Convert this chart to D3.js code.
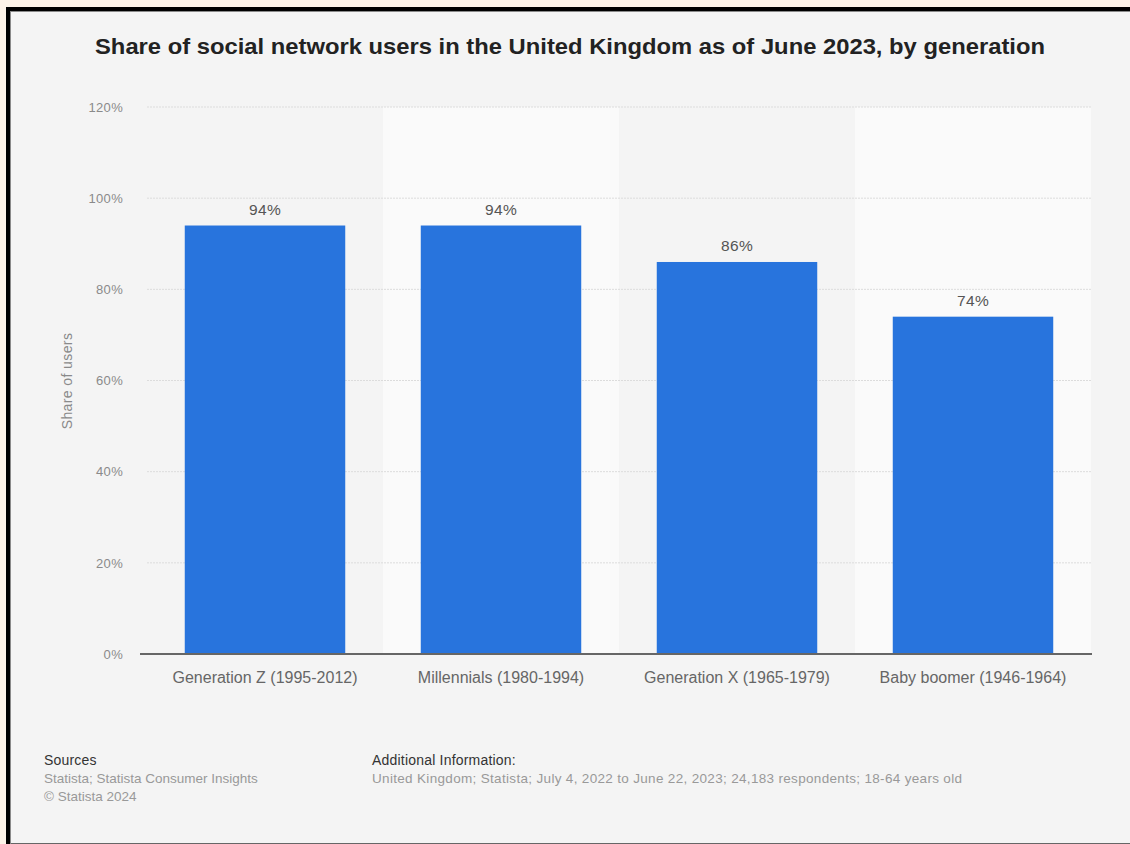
<!DOCTYPE html>
<html>
<head>
<meta charset="utf-8">
<script src="https://cdn.jsdelivr.net/npm/d3@7"></script>
<style>
  body { margin: 0; background: #fdf3e8; }
  svg { display: block; font-family: "Liberation Sans", Arial, sans-serif; }
</style>
</head>
<body>
<svg id="chart"></svg>
<script>
// data
const categories = ["Generation Z (1995-2012)", "Millennials (1980-1994)", "Generation X (1965-1979)", "Baby boomer (1946-1964)"];
const shares = [94, 94, 86, 74];
const yTicks = [0, 20, 40, 60, 80, 100, 120];

const title = "Share of social network users in the United Kingdom as of June 2023, by generation";
const sourceLines = ["Statista; Statista Consumer Insights", "© Statista 2024"];
const infoLine = "United Kingdom; Statista; July 4, 2022 to June 22, 2023; 24,183 respondents; 18-64 years old";

const width = 1130, height = 844;
const svg = d3.select("#chart").attr("width", width).attr("height", height);

// frame: black border top/left, grey inner line, grey bottom line
svg.append("rect").attr("x", 6).attr("y", 7).attr("width", width - 6).attr("height", height - 7).attr("fill", "#000");
svg.append("rect").attr("x", 10).attr("y", 11).attr("width", width - 10).attr("height", height - 11).attr("fill", "#8a8a8a");
svg.append("rect").attr("x", 11).attr("y", 12).attr("width", width - 11).attr("height", height - 13).attr("fill", "#f4f4f4");
svg.append("rect").attr("x", 11).attr("y", height - 1).attr("width", width - 11).attr("height", 1).attr("fill", "#666");

// title
svg.append("text")
    .attr("x", 95).attr("y", 54)
    .attr("font-size", 21.5)
    .attr("font-weight", "bold")
    .attr("fill", "#222")
    .attr("textLength", 950)
    .attr("lengthAdjust", "spacingAndGlyphs")
    .text(title);

// scales
const xScale = d3.scaleBand()
    .domain(categories)
    .range([147, 1091])
    .paddingInner(0.32)
    .paddingOuter(0.16);

const yScale = d3.scaleLinear()
    .domain([0, 120])
    .range([654, 107]);

// alternating band backgrounds
const step = xScale.step();
svg.append("g").selectAll("rect")
    .data(categories.filter((d, i) => i % 2 == 1))
    .join("rect")
    .attr("x", d => xScale(d) - xScale.paddingInner() * step / 2)
    .attr("y", yScale(120))
    .attr("width", step)
    .attr("height", yScale(0) - yScale(120))
    .attr("fill", "#fafafa");

// gridlines
svg.append("g").selectAll("line")
    .data(yTicks.filter(d => d > 0))
    .join("line")
    .attr("x1", 147).attr("x2", 1091)
    .attr("y1", d => yScale(d)).attr("y2", d => yScale(d))
    .attr("stroke", "#dcdcdc")
    .attr("stroke-width", 1)
    .attr("stroke-dasharray", "2,1");

// y axis
const yAxis = d3.axisLeft(yScale)
    .tickValues(yTicks)
    .tickFormat(d => d + "%")
    .tickSize(0)
    .tickPadding(0);

const yg = svg.append("g")
    .attr("transform", "translate(123,0)")
    .call(yAxis);
yg.select(".domain").remove();
yg.selectAll("text")
    .attr("font-size", 13)
    .attr("font-family", "Liberation Sans, Arial, sans-serif")
    .attr("letter-spacing", 0.3)
    .attr("fill", "#8a8a8a");

// y axis title
svg.append("text")
    .attr("transform", "translate(72,381) rotate(-90)")
    .attr("text-anchor", "middle")
    .attr("font-size", 14)
    .attr("letter-spacing", 0.4)
    .attr("fill", "#8a8a8a")
    .text("Share of users");

// bars
svg.append("g").selectAll("rect")
    .data(shares)
    .join("rect")
    .attr("x", (d, i) => xScale(categories[i]))
    .attr("y", d => yScale(d))
    .attr("width", xScale.bandwidth())
    .attr("height", d => yScale(0) - yScale(d))
    .attr("fill", "#2874dd");

// value labels
svg.append("g").selectAll("text")
    .data(shares)
    .join("text")
    .attr("x", (d, i) => xScale(categories[i]) + xScale.bandwidth() / 2)
    .attr("y", d => yScale(d) - 11)
    .attr("text-anchor", "middle")
    .attr("font-size", 15.5)
    .attr("letter-spacing", 0.4)
    .attr("fill", "#555")
    .text(d => d + "%");

// x axis
const xg = svg.append("g")
    .attr("transform", "translate(0,654)")
    .call(d3.axisBottom(xScale).tickSize(0).tickPadding(18));
xg.select(".domain")
    .attr("d", "M140,0H1092")
    .attr("stroke", "#666")
    .attr("stroke-width", 2);
xg.selectAll("text")
    .attr("font-size", 16)
    .attr("font-family", "Liberation Sans, Arial, sans-serif")
    .attr("fill", "#666");

// footer
svg.append("text").attr("x", 44).attr("y", 765)
    .attr("font-size", 14).attr("letter-spacing", 0.2).attr("fill", "#333").text("Sources");
svg.append("g").selectAll("text")
    .data(sourceLines)
    .join("text")
    .attr("x", 44).attr("y", (d, i) => 783 + i * 18)
    .attr("font-size", 13.5).attr("fill", "#999")
    .text(d => d);

svg.append("text").attr("x", 372).attr("y", 765)
    .attr("font-size", 14).attr("letter-spacing", 0.2).attr("fill", "#333").text("Additional Information:");
svg.append("text").attr("x", 372).attr("y", 783)
    .attr("font-size", 13.5).attr("fill", "#999")
    .attr("textLength", 590).attr("lengthAdjust", "spacing")
    .text(infoLine);
</script>
</body>
</html>
